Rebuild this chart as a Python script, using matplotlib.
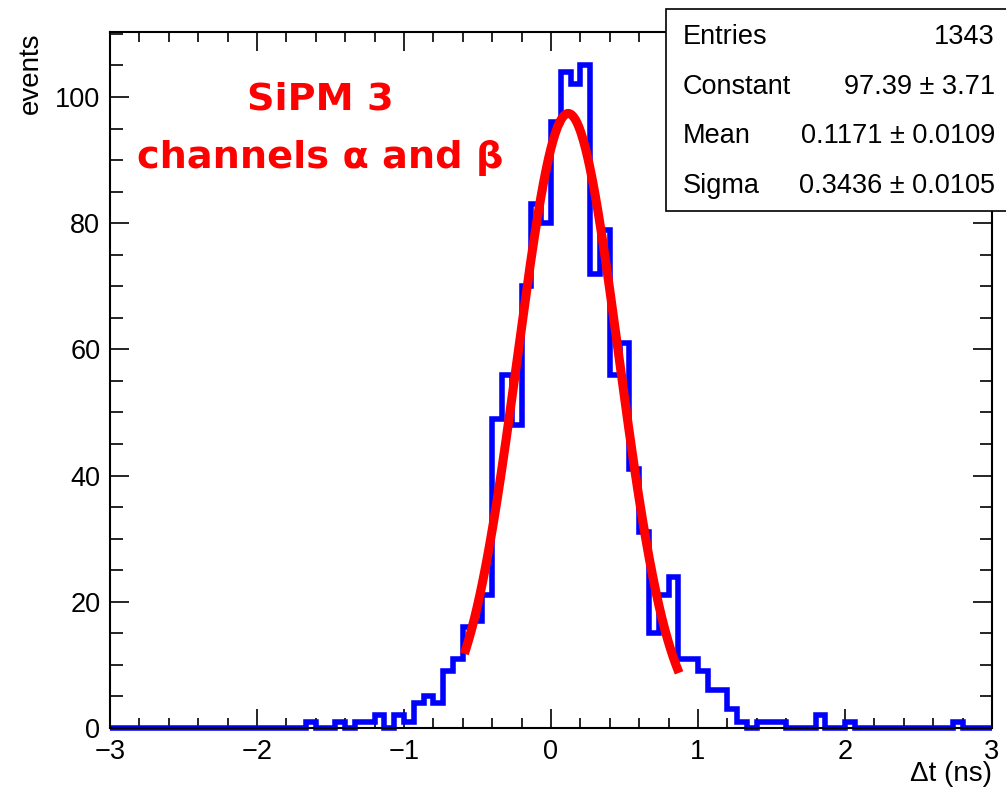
"""SiPM 3 timing difference histogram with Gaussian fit (ROOT-style)."""

import matplotlib
matplotlib.use("Agg")
import matplotlib.pyplot as plt
import numpy as np
from matplotlib.patches import Rectangle
from matplotlib.ticker import MultipleLocator

plt.rcParams["font.family"] = ["Liberation Sans", "DejaVu Sans"]

# 90 bins between -3 and 3 ns
X_RANGE = (-3.0, 3.0)
N_BINS = 90
COUNTS = [
    0, 0, 0, 0, 0, 0, 0, 0, 0, 0,
    0, 0, 0, 0, 0, 0, 0, 0, 0, 0,
    1, 0, 0, 1, 0, 1, 1, 2, 0, 2,
    1, 4, 5, 4, 9, 11, 16, 17, 21, 49,
    56, 48, 70, 83, 80, 96, 104, 102, 105, 72,
    79, 56, 61, 41, 31, 15, 21, 24, 11, 11,
    9, 6, 6, 3, 1, 0, 1, 1, 1, 0,
    0, 0, 2, 0, 0, 1, 0, 0, 0, 0,
    0, 0, 0, 0, 0, 0, 1, 0, 0, 0,
]

FIT_CONST = 97.39
FIT_MEAN = 0.1171
FIT_SIGMA = 0.3436
FIT_RANGE = (-0.58, 0.86)

STATS_LABELS = ["Entries", "Constant", "Mean", "Sigma"]
STATS_VALUES = ["1343", "97.39 \u00b1 3.71", "0.1171 \u00b1 0.0109", "0.3436 \u00b1 0.0105"]

W, H = 1006, 789


def main() -> None:
    fig = plt.figure(figsize=(W / 100, H / 100), dpi=100)
    ax = fig.add_axes([110 / W, (H - 728) / H, 882 / W, (728 - 32) / H])

    edges = np.linspace(X_RANGE[0], X_RANGE[1], N_BINS + 1)
    ax.stairs(COUNTS, edges, color="#0000ff", lw=4.0, baseline=None, clip_on=False, zorder=2)

    xf = np.linspace(FIT_RANGE[0], FIT_RANGE[1], 300)
    yf = FIT_CONST * np.exp(-0.5 * ((xf - FIT_MEAN) / FIT_SIGMA) ** 2)
    ax.plot(xf, yf, color="#ff0000", lw=6.5, zorder=3)

    ax.set_xlim(*X_RANGE)
    ax.set_ylim(0, 110.3)
    ax.xaxis.set_major_locator(MultipleLocator(1))
    ax.xaxis.set_minor_locator(MultipleLocator(0.2))
    ax.yaxis.set_major_locator(MultipleLocator(20))
    ax.yaxis.set_minor_locator(MultipleLocator(5))
    ax.tick_params(which="both", direction="in", top=True, right=True, width=1.2, labelsize=19.5)
    ax.tick_params(axis="x", which="major", length=14, pad=8)
    ax.tick_params(axis="x", which="minor", length=7)
    ax.tick_params(axis="y", which="major", length=14, pad=7)
    ax.tick_params(axis="y", which="minor", length=9)
    for spine in ax.spines.values():
        spine.set_linewidth(1.5)

    ax.set_xlabel("\u0394t (ns)", fontsize=20, loc="right", labelpad=-3)
    ax.set_ylabel("events", fontsize=20, loc="top", labelpad=8)

    red_font = ["DejaVu Sans"]
    ax.text(320 / W, 1 - 100 / H, "SiPM 3", transform=fig.transFigure, color="#ff0000",
            fontsize=27.5, fontweight="bold", family=red_font, ha="center", va="center")
    ax.text(320 / W, 1 - 158 / H, "channels \u03b1 and \u03b2", transform=fig.transFigure,
            color="#ff0000", fontsize=27.5, fontweight="bold", family=red_font,
            ha="center", va="center")

    # stats box
    box = Rectangle((666 / W, 1 - 211 / H), (1010 - 666) / W, (211 - 9) / H,
                    transform=fig.transFigure, facecolor="white", edgecolor="black",
                    lw=1.2, zorder=5)
    fig.add_artist(box)
    for idx, (label, value) in enumerate(zip(STATS_LABELS, STATS_VALUES)):
        y = 1 - (37 + idx * 49.7) / H
        fig.text(683 / W, y, label, fontsize=19.5, ha="left", va="center", zorder=6)
        fig.text(995 / W, y, value, fontsize=19.5, ha="right", va="center", zorder=6)

    fig.savefig("out.png", dpi=100)
    plt.close(fig)


if __name__ == "__main__":
    main()
